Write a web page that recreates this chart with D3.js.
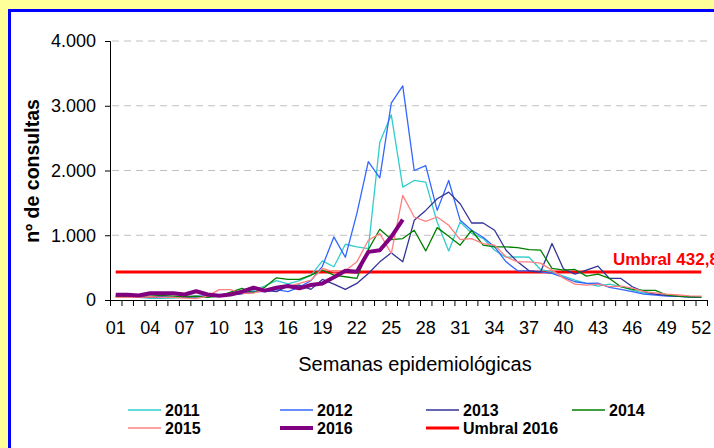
<!DOCTYPE html>
<html>
<head>
<meta charset="utf-8">
<script src="https://cdn.jsdelivr.net/npm/d3@7"></script>
<style>
  body { margin: 0; background: #FFFF99; }
  svg { display: block; font-family: Arial, "Liberation Sans", sans-serif; }
</style>
</head>
<body>
<div id="chart"></div>
<script>
// Semanas 01..52
var weeks = d3.range(1, 53).map(function(d) { return d < 10 ? "0" + d : "" + d; });
var tickLabels = weeks.filter(function(d, i) { return i % 3 === 0; });
var yTicks = [0, 1000, 2000, 3000, 4000];

var years = ["2011", "2012", "2013", "2014", "2015", "2016"];
var s2011 = [50,45,40,25,25,30,40,50,60,70, 90,110,150,220,300,250,300,380,605,513,
  861,820,795,2435,2860,1743,1846,1820,1200,758, 1204,1030,953,769,661,666,660,470,436,369,
  307,256,215,246,205,154,108,90,70,60, 50,45];
var s2012 = [60,55,50,55,50,40,50,60,60,70, 80,100,130,130,160,130,200,300,520,974,
  660,1333,2138,1887,3040,3307,2000,2076,1384,1846, 1230,1077,969,820,589,451,450,436,410,349,
  282,256,262,195,164,128,92,77,61,55, 50,45];
var s2013 = [60,55,45,40,40,40,45,50,55,60, 80,100,120,150,130,215,231,164,318,246,
  164,256,410,589,728,589,1230,1384,1564,1666, 1487,1189,1189,1077,769,589,450,430,872,480,
  400,461,523,333,333,205,128,90,70,55, 50,45];
var s2014 = [60,55,50,60,70,60,50,60,40,60, 120,180,110,200,343,320,320,385,461,385,
  359,333,779,1092,933,949,1077,758,1118,984, 846,1077,846,820,820,810,779,769,487,461,
  472,369,400,333,205,164,148,148,77,60, 50,45];
var s2015 = [40,40,40,50,40,40,30,20,60,160, 160,100,110,150,185,215,256,307,487,436,
  450,589,923,1025,718,1615,1282,1215,1282,1154, 933,949,872,846,666,589,589,570,461,338,
  246,231,246,205,215,185,128,108,90,77, 65,60];
var s2016 = [80,80,70,105,105,105,85,135,85,65, 85,128,190,145,190,215,180,231,256,350,
  451,436,743,769,974,1241];
var umbral = 432.8;

var series = [s2011, s2012, s2013, s2014, s2015, s2016];
var colors = ["#33CCCC", "#3366FF", "#333399", "#008000", "#FF8080", "#800080"];
var widths = [1.3, 1.3, 1.3, 1.3, 1.3, 4];

var svgWidth = 714, svgHeight = 448;
var margin = { left: 110, top: 41, right: 7, bottom: 148 };
var width = svgWidth - margin.left - margin.right;
var height = svgHeight - margin.top - margin.bottom;

var svg = d3.select("#chart").append("svg")
  .attr("width", svgWidth)
  .attr("height", svgHeight);

// white panel with blue border
svg.append("rect")
  .attr("x", 9.5).attr("y", 10.5)
  .attr("width", 800).attr("height", 600)
  .attr("fill", "#fff")
  .attr("stroke", "#0000FF")
  .attr("stroke-width", 3);

var g = svg.append("g").attr("transform", `translate(${margin.left}, ${margin.top})`);

var x = d3.scaleBand().domain(weeks).range([0, width]);
var xEdge = d3.scaleLinear().domain([0, 52]).range([0, width]);
var y = d3.scaleLinear().domain([0, 4000]).range([height, 0]);
var cx = function(i) { return x(weeks[i]) + x.bandwidth() / 2; };

var fmt = d3.formatLocale({ decimal: ",", thousands: ".", grouping: [3], currency: ["", ""] }).format(",");

// gridlines
g.selectAll("line.grid")
  .data(yTicks.slice(1))
  .enter().append("line")
  .attr("x1", 2).attr("x2", width)
  .attr("y1", d => y(d)).attr("y2", d => y(d))
  .attr("stroke", "#c0c0c0")
  .attr("stroke-dasharray", "7,5");

// y axis
var yAxis = g.append("g")
  .call(d3.axisLeft(y).tickValues(yTicks).tickFormat(fmt).tickSize(5).tickPadding(9));
yAxis.select(".domain").attr("stroke", "#000");
yAxis.selectAll("text").attr("font-size", 18).attr("fill", "#000").attr("font-family", "Arial, 'Liberation Sans', sans-serif");

// x axis: tick marks between categories
var xAxis = g.append("g")
  .attr("transform", `translate(0, ${height})`)
  .call(d3.axisBottom(xEdge).tickValues(d3.range(0, 53)).tickFormat("").tickSize(6));
xAxis.select(".domain").attr("stroke", "#000");

// x labels
var xLab = g.append("g")
  .attr("transform", `translate(0, ${height})`)
  .call(d3.axisBottom(x).tickValues(tickLabels).tickSize(0).tickPadding(21));
xLab.select(".domain").remove();
xLab.selectAll("text").attr("font-size", 18).attr("fill", "#000").attr("font-family", "Arial, 'Liberation Sans', sans-serif");

// threshold
g.append("line")
  .attr("x1", cx(0)).attr("x2", cx(51))
  .attr("y1", y(umbral)).attr("y2", y(umbral))
  .attr("stroke", "#FF0000").attr("stroke-width", 3);

g.append("text")
  .attr("x", 503).attr("y", y(umbral) - 7)
  .attr("font-size", 17).attr("font-weight", "bold")
  .attr("fill", "#FF0000")
  .text("Umbral 432,8");

// series lines
var line = d3.line()
  .x((d, i) => cx(i))
  .y(d => y(d));

series.forEach(function(s, k) {
  g.append("path")
    .datum(s)
    .attr("fill", "none")
    .attr("stroke", colors[k])
    .attr("stroke-width", widths[k])
    .attr("stroke-linejoin", "round")
    .attr("d", line);
});

// axis titles
svg.append("text")
  .attr("transform", "translate(39, 171) rotate(-90)")
  .attr("text-anchor", "middle")
  .attr("font-size", 19.5).attr("font-weight", "bold")
  .text("nº de consultas");

svg.append("text")
  .attr("x", 415).attr("y", 371)
  .attr("text-anchor", "middle")
  .attr("font-size", 20)
  .text("Semanas epidemiológicas");

// legend
var legendItems = years.map(function(yr, k) {
  return { label: yr, color: colors[k], w: widths[k] };
});
legendItems.push({ label: "Umbral 2016", color: "#FF0000", w: 3 });
var colX = [128, 280, 426, 572];

var leg = svg.selectAll("g.legend")
  .data(legendItems)
  .enter().append("g")
  .attr("transform", (d, i) => `translate(${colX[i % 4]}, ${i < 4 ? 410 : 428})`);

leg.append("line")
  .attr("x1", 0).attr("x2", 33)
  .attr("stroke", d => d.color)
  .attr("stroke-width", d => d.w);

leg.append("text")
  .attr("x", 37).attr("y", 6)
  .attr("font-size", 16).attr("font-weight", "bold")
  .text(d => d.label);
</script>
</body>
</html>
